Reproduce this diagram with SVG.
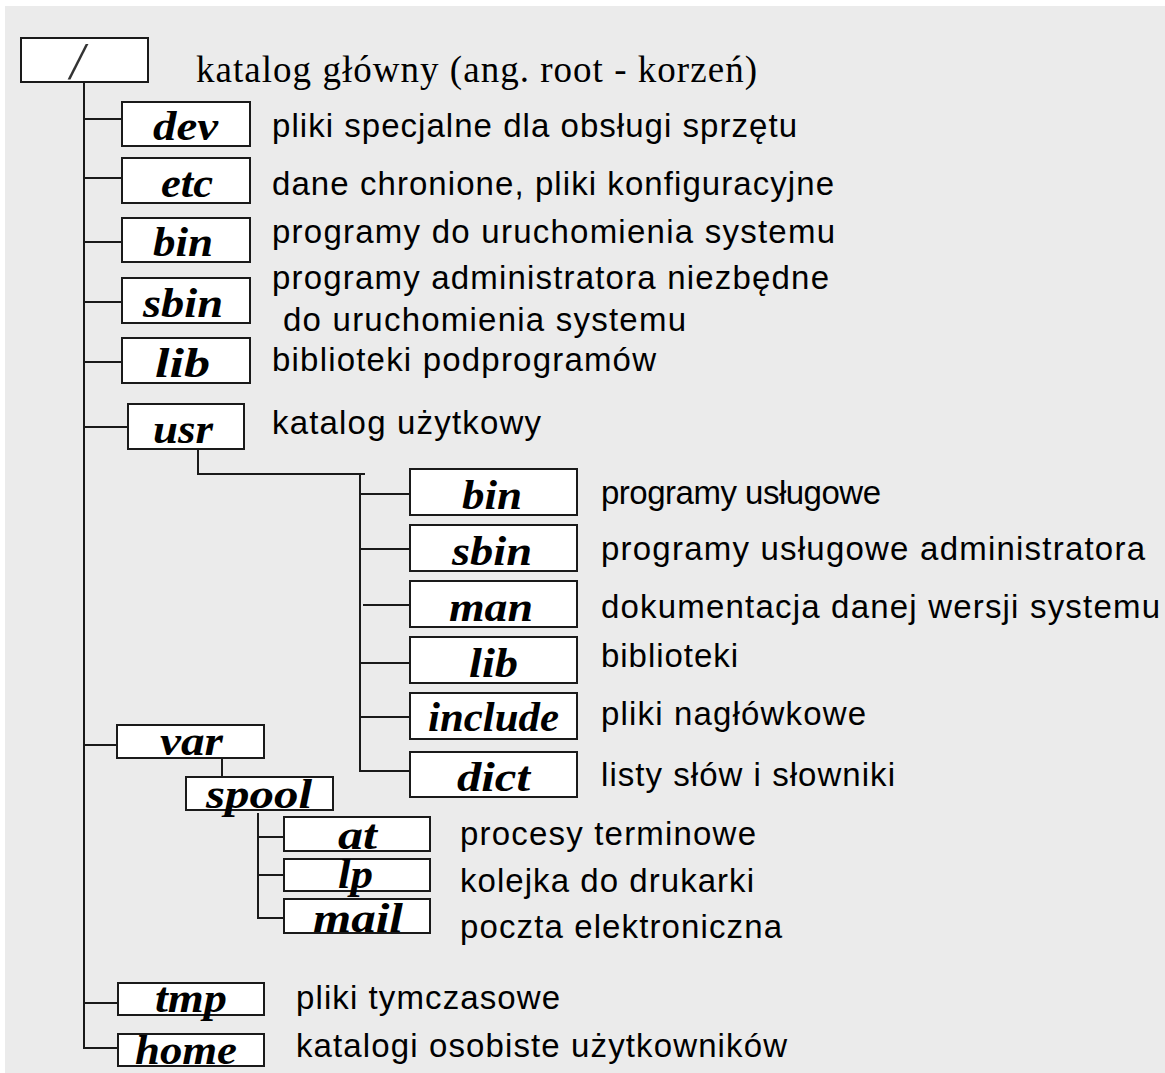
<svg xmlns="http://www.w3.org/2000/svg" width="1165" height="1073" viewBox="0 0 1165 1073">
<style>
.bg{fill:#ebebeb}
.box{fill:#fff;stroke:#1a1a1a;stroke-width:2}
.lbl{font-family:"Liberation Serif","Times New Roman",serif;font-weight:bold;font-style:italic;font-size:42px;fill:#000}
.desc{font-family:"Liberation Sans",Arial,sans-serif;font-size:33px;fill:#000}
.rootdesc{font-family:"Liberation Serif","Times New Roman",serif;font-size:37px;fill:#000}
.conn path{fill:none;stroke:#1a1a1a;stroke-width:2}
</style>
<rect width="1165" height="1073" fill="#fff"/>
<rect class="bg" x="5" y="6" width="1160" height="1067"/>
<g id="connectors" class="conn">
<path d="M84 82 V1048 H118"/>
<path d="M84 119 H122"/>
<path d="M84 178 H122"/>
<path d="M84 242 H122"/>
<path d="M84 302 H122"/>
<path d="M84 362 H122"/>
<path d="M84 427 H128"/>
<path d="M84 745 H117"/>
<path d="M84 1003 H118"/>
<path d="M198 449 V474 H365"/>
<path d="M360 474 V771 H410"/>
<path d="M360 494 H410"/>
<path d="M360 549 H410"/>
<path d="M363 605 H410"/>
<path d="M360 663 H410"/>
<path d="M360 717 H410"/>
<path d="M222 758 V777"/>
<path d="M258 813 V918 H284"/>
<path d="M258 837 H284"/>
<path d="M258 875 H284"/>
</g>
<g id="root">
<rect class="box" x="21" y="38" width="127" height="44"/>
<text x="70" y="79" font-family="Liberation Serif,serif" font-style="italic" font-size="52" fill="#333">/</text>
<text class="rootdesc" x="196" y="82" textLength="561">katalog główny (ang. root - korzeń)</text>
</g>
<g id="dev">
<rect class="box" x="122" y="102" width="128" height="44"/>
<text class="lbl" x="153" y="140" textLength="65" lengthAdjust="spacingAndGlyphs">dev</text>
<text class="desc" x="272" y="137" textLength="525">pliki specjalne dla obsługi sprzętu</text>
</g>
<g id="etc">
<rect class="box" x="122" y="158" width="128" height="45"/>
<text class="lbl" x="161" y="197" textLength="52" lengthAdjust="spacingAndGlyphs">etc</text>
<text class="desc" x="272" y="195" textLength="562">dane chronione, pliki konfiguracyjne</text>
</g>
<g id="bin">
<rect class="box" x="122" y="218" width="128" height="44"/>
<text class="lbl" x="153" y="256" textLength="60" lengthAdjust="spacingAndGlyphs">bin</text>
<text class="desc" x="272" y="243" textLength="563">programy do uruchomienia systemu</text>
</g>
<g id="sbin">
<rect class="box" x="122" y="278" width="128" height="45"/>
<text class="lbl" x="143" y="317" textLength="80" lengthAdjust="spacingAndGlyphs">sbin</text>
<text class="desc" x="272" y="289" textLength="557">programy administratora niezbędne</text>
<text class="desc" x="283" y="331" textLength="403">do uruchomienia systemu</text>
</g>
<g id="lib">
<rect class="box" x="122" y="338" width="128" height="45"/>
<text class="lbl" x="155" y="377" textLength="55" lengthAdjust="spacingAndGlyphs">lib</text>
<text class="desc" x="272" y="371" textLength="384">biblioteki podprogramów</text>
</g>
<g id="usr">
<rect class="box" x="128" y="404" width="116" height="45"/>
<text class="lbl" x="153" y="443" textLength="60" lengthAdjust="spacingAndGlyphs">usr</text>
<text class="desc" x="272" y="434" textLength="269">katalog użytkowy</text>
</g>
<g id="usr-bin">
<rect class="box" x="410" y="469" width="167" height="46"/>
<text class="lbl" x="462" y="509" textLength="60" lengthAdjust="spacingAndGlyphs">bin</text>
<text class="desc" x="601" y="504" textLength="280">programy usługowe</text>
</g>
<g id="usr-sbin">
<rect class="box" x="410" y="525" width="167" height="46"/>
<text class="lbl" x="452" y="565" textLength="80" lengthAdjust="spacingAndGlyphs">sbin</text>
<text class="desc" x="601" y="560" textLength="544">programy usługowe administratora</text>
</g>
<g id="usr-man">
<rect class="box" x="410" y="581" width="167" height="46"/>
<text class="lbl" x="449" y="621" textLength="84" lengthAdjust="spacingAndGlyphs">man</text>
<text class="desc" x="601" y="618" textLength="559">dokumentacja danej wersji systemu</text>
</g>
<g id="usr-lib">
<rect class="box" x="410" y="637" width="167" height="46"/>
<text class="lbl" x="469" y="677" textLength="49" lengthAdjust="spacingAndGlyphs">lib</text>
<text class="desc" x="601" y="667" textLength="137">biblioteki</text>
</g>
<g id="usr-include">
<rect class="box" x="410" y="693" width="167" height="46"/>
<text class="lbl" x="428" y="731" textLength="131" lengthAdjust="spacingAndGlyphs">include</text>
<text class="desc" x="601" y="725" textLength="265">pliki nagłówkowe</text>
</g>
<g id="usr-dict">
<rect class="box" x="410" y="752" width="167" height="45"/>
<text class="lbl" x="457" y="791" textLength="73" lengthAdjust="spacingAndGlyphs">dict</text>
<text class="desc" x="601" y="786" textLength="294">listy słów i słowniki</text>
</g>
<g id="var">
<rect class="box" x="117" y="725" width="147" height="33"/>
<text class="lbl" x="160" y="755" textLength="63" lengthAdjust="spacingAndGlyphs">var</text>
</g>
<g id="spool">
<rect class="box" x="186" y="777" width="147" height="33"/>
<text class="lbl" x="206" y="808" textLength="106" lengthAdjust="spacingAndGlyphs">spool</text>
</g>
<g id="at">
<rect class="box" x="284" y="817" width="146" height="34"/>
<text class="lbl" x="338" y="849" font-size="38" textLength="39" lengthAdjust="spacingAndGlyphs">at</text>
<text class="desc" x="460" y="845" textLength="296">procesy terminowe</text>
</g>
<g id="lp">
<rect class="box" x="284" y="859" width="146" height="32"/>
<text class="lbl" x="338" y="888" font-size="34" textLength="35" lengthAdjust="spacingAndGlyphs">lp</text>
<text class="desc" x="460" y="892" textLength="294">kolejka do drukarki</text>
</g>
<g id="mail">
<rect class="box" x="284" y="899" width="146" height="34"/>
<text class="lbl" x="313" y="932" textLength="90" lengthAdjust="spacingAndGlyphs">mail</text>
<text class="desc" x="460" y="938" textLength="322">poczta elektroniczna</text>
</g>
<g id="tmp">
<rect class="box" x="118" y="983" width="146" height="32"/>
<text class="lbl" x="155" y="1012" textLength="72" lengthAdjust="spacingAndGlyphs">tmp</text>
<text class="desc" x="296" y="1009" textLength="264">pliki tymczasowe</text>
</g>
<g id="home">
<rect class="box" x="118" y="1034" width="146" height="32"/>
<text class="lbl" x="135" y="1064" textLength="102" lengthAdjust="spacingAndGlyphs">home</text>
<text class="desc" x="296" y="1057" textLength="491">katalogi osobiste użytkowników</text>
</g>
</svg>
